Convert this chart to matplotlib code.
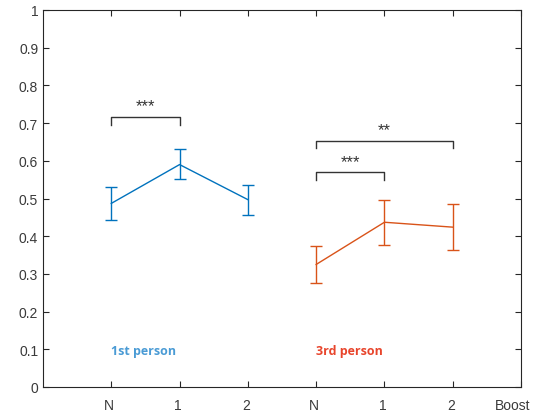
import matplotlib
matplotlib.use("Agg")
import matplotlib.pyplot as plt
import matplotlib.transforms as mtransforms

plt.rcParams['font.family'] = ['Liberation Sans', 'DejaVu Sans']

# Data
tick_labels = ["N", "1", "2", "N", "1", "2", "Boost"]
x_first = [1, 2, 3]
y_first = [0.487, 0.590, 0.497]
lo_first = [0.444, 0.551, 0.457]
hi_first = [0.530, 0.632, 0.537]

x_third = [4, 5, 6]
y_third = [0.325, 0.437, 0.424]
lo_third = [0.275, 0.377, 0.364]
hi_third = [0.374, 0.497, 0.485]

# significance brackets: (x1, x2, y_line, label)
brackets = [(1, 2, 0.716, "***"), (4, 5, 0.569, "***"), (4, 6, 0.653, "**")]

blue = "#0072BD"
orange = "#D95319"
axc = "#262626"

fig = plt.figure(figsize=(5.36, 4.14), dpi=100)
ax = fig.add_axes([43/536, 1-388/414, (521-43)/536, (388-11)/414])

def errs(y, lo, hi):
    return [[a - b for a, b in zip(y, lo)], [c - a for a, c in zip(y, hi)]]

ax.errorbar(x_first, y_first, yerr=errs(y_first, lo_first, hi_first), color=blue,
            lw=1.0, capsize=4, capthick=1.0, elinewidth=1.0)
ax.errorbar(x_third, y_third, yerr=errs(y_third, lo_third, hi_third), color=orange,
            lw=1.0, capsize=4, capthick=1.0, elinewidth=1.0)

for x1, x2, yl, lab in brackets:
    d = 0.02
    ax.plot([x1, x1, x2, x2], [yl - d, yl, yl, yl - d], color="#333333", lw=1.0)
    ax.text((x1 + x2) / 2, yl + 0.01, lab, ha="center", va="bottom", fontsize=12,
            color="#333333")

ax.text(1.47, 0.096, "1st person", color="#4A9BD5", fontsize=9, fontweight="bold",
        ha="center", va="center", family=["Open Sans", "DejaVu Sans"])
ax.text(4.49, 0.096, "3rd person", color="#E8452C", fontsize=9, fontweight="bold",
        ha="center", va="center", family=["Open Sans", "DejaVu Sans"])

ax.set_xlim(0, 7)
ax.set_ylim(0, 1)
ax.set_xticks(range(1, 8))
ax.set_xticklabels(tick_labels)
ax.set_yticks([i / 10 for i in range(11)])
ax.set_yticklabels(["0"] + [f"{i/10:.1f}" for i in range(1, 10)] + ["1"])

ax.tick_params(direction="in", top=True, right=True, length=4, width=0.8,
               colors=axc, labelsize=10, labelcolor="#3a3a3a")
ax.tick_params(axis="x", pad=8)
for s in ax.spines.values():
    s.set_color(axc)
    s.set_linewidth(0.8)

for i, lbl in enumerate(ax.get_xticklabels()):
    dx = -8 if i == 6 else -2
    lbl.set_transform(lbl.get_transform() + mtransforms.ScaledTranslation(dx/100, 0, fig.dpi_scale_trans))

fig.savefig("out.png", dpi=100)
